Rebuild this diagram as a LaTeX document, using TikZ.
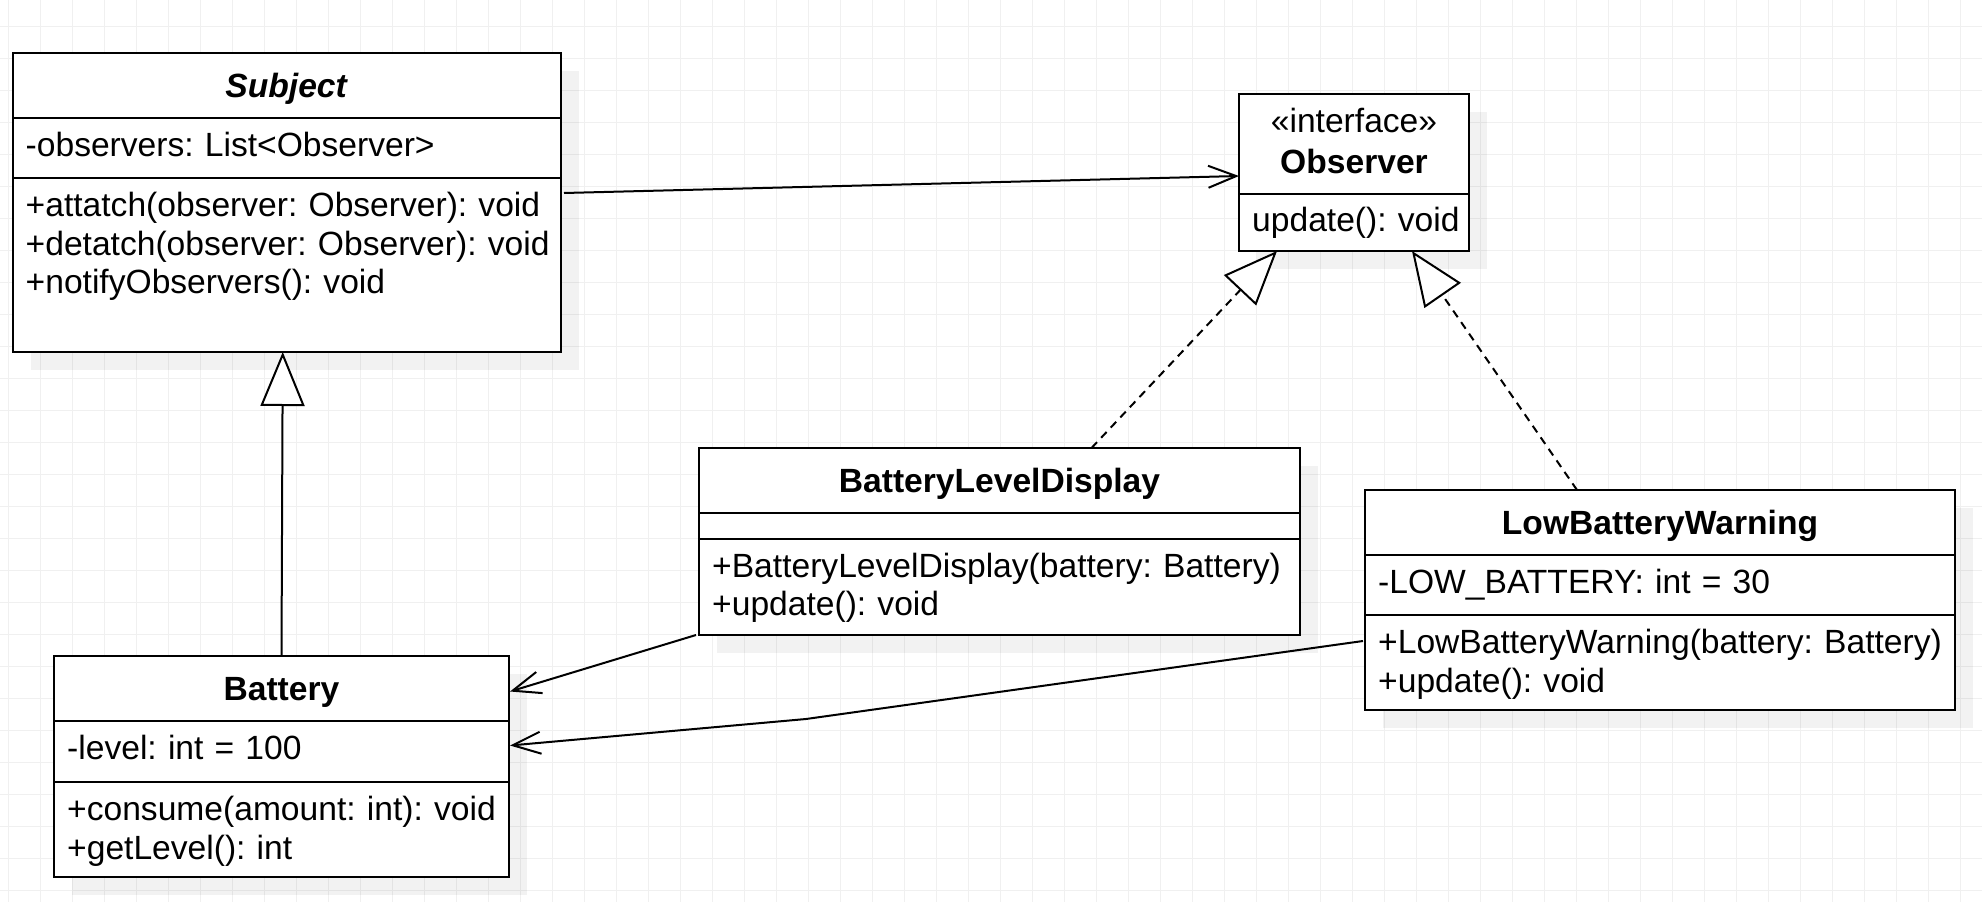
\documentclass[tikz,border=0pt]{standalone}
\usepackage{fontspec}
\setmainfont{Liberation Sans}
\usetikzlibrary{positioning,calc,arrows.meta,shadows}
\definecolor{gridgray}{HTML}{F0F0F0}
\frenchspacing
\tikzset{
        % one compartment of a class box
        class_part/.style={rectangle, draw=black, line width=2pt, fill=white, anchor=north west, inner sep=0pt, outer sep=0pt,
            drop shadow={shadow xshift=18pt, shadow yshift=-18pt, fill=black, opacity=0.05}},
        % name compartment
        class_head/.style={class_part, font=\fontsize{33.6}{38.5}\selectfont\bfseries, text height=25pt, text depth=2pt},
        % attributes and operations
        member_text/.style={anchor=base west, inner sep=0pt, text width=620pt, align=left},
        % connectors
        assoc/.style={line width=2pt, -{Straight Barb[length=28pt, width=22pt]}},
        extends/.style={line width=2pt, -{Triangle[length=54pt, width=44pt, fill=white]}},
        realizes/.style={extends, dash pattern=on 8pt off 6pt},
        gridline/.style={gridgray, line width=1pt}
}
\begin{document}
\begin{tikzpicture}[
            x=1pt, y=-1pt,
            every node/.style={font=\fontsize{33.6}{38.5}\selectfont}
        ]
            \fill[white] (0,0) rectangle (1982,902);
            \useasboundingbox (0,0) rectangle (1982,902);
            \foreach \gx in {0,...,61} \draw[gridline] ({8.3+32*\gx},0) -- ({8.3+32*\gx},902);
            \foreach \gy in {0,...,27} \draw[gridline] (0,{26.3+32*\gy}) -- (1982,{26.3+32*\gy});

            % Subject
            \node[class_head, minimum width=548.5pt, minimum height=65pt] (subject_head) at (12.5,53) {\textit{Subject}};
            \node[class_part, minimum width=548.5pt, minimum height=60pt] (subject_attr) at (subject_head.south west) {};
            \node[class_part, minimum width=548.5pt, minimum height=174pt] (subject_meth) at (subject_attr.south west) {};
            \node[member_text] (subject_attr_text) at ($(subject_attr.north west)+(13,38.5)$) {-observers: List<Observer>};
            \node[member_text] (subject_meth_text) at ($(subject_meth.north west)+(13,38.5)$)
                {+attatch(observer: Observer): void\\+detatch(observer: Observer): void\\+notifyObservers(): void};

            % Observer
            \node[class_head, minimum width=230pt, minimum height=100pt] (observer_head) at (1239,94) {};
            \node[class_part, minimum width=230pt, minimum height=57pt] (observer_meth) at (observer_head.south west) {};
            \node[anchor=base, inner sep=0pt, text width=230pt, align=center, font=\fontsize{33.6}{41}\selectfont] (observer_title)
                at ($(observer_head.north)+(0,38)$) {«interface»\\\textbf{Observer}};
            \node[member_text] (observer_meth_text) at ($(observer_meth.north west)+(13,37.5)$) {update(): void};

            % BatteryLevelDisplay
            \node[class_head, minimum width=601pt, minimum height=65pt] (display_head) at (699,448) {BatteryLevelDisplay};
            \node[class_part, minimum width=601pt, minimum height=26pt] (display_attr) at (display_head.south west) {};
            \node[class_part, minimum width=601pt, minimum height=96pt] (display_meth) at (display_attr.south west) {};
            \node[member_text] (display_meth_text) at ($(display_meth.north west)+(13,38)$)
                {+BatteryLevelDisplay(battery: Battery)\\+update(): void};

            % LowBatteryWarning
            \node[class_head, minimum width=590pt, minimum height=65pt] (warning_head) at (1365,490) {LowBatteryWarning};
            \node[class_part, minimum width=590pt, minimum height=60pt] (warning_attr) at (warning_head.south west) {};
            \node[class_part, minimum width=590pt, minimum height=95pt] (warning_meth) at (warning_attr.south west) {};
            \node[member_text] (warning_attr_text) at ($(warning_attr.north west)+(13,38.5)$) {-LOW\_BATTERY: int = 30};
            \node[member_text] (warning_meth_text) at ($(warning_meth.north west)+(13,38.5)$)
                {+LowBatteryWarning(battery: Battery)\\+update(): void};

            % Battery
            \node[class_head, minimum width=455pt, minimum height=65pt] (battery_head) at (54,656) {Battery};
            \node[class_part, minimum width=455pt, minimum height=61pt] (battery_attr) at (battery_head.south west) {};
            \node[class_part, minimum width=455pt, minimum height=95pt] (battery_meth) at (battery_attr.south west) {};
            \node[member_text] (battery_attr_text) at ($(battery_attr.north west)+(13,38.5)$) {-level: int = 100};
            \node[member_text] (battery_meth_text) at ($(battery_meth.north west)+(13,38.5)$)
                {+consume(amount: int): void\\+getLevel(): int};

            % connectors
            \draw[assoc] ($(subject_meth.north east)+(3,15)$) -- ($(observer_head.south west)+(0,-18)$);
            \draw[extends] (battery_head.north) -- ($(subject_meth.south)+(-4,0)$);
            \draw[realizes] ($(display_head.north)+(92,0)$) -- ($(observer_meth.south west)+(38,0)$);
            \draw[realizes] ($(warning_head.north)+(-83,0)$) -- ($(observer_meth.south east)+(-57,0)$);
            \draw[assoc] ($(display_meth.south west)+(-3,0)$) -- ($(battery_head.east)+(1,3)$);
            \draw[assoc] ($(warning_meth.north west)+(-2,26)$) -- (806,719) -- ($(battery_attr.east)+(1,-6)$);
        \end{tikzpicture}
\end{document}
